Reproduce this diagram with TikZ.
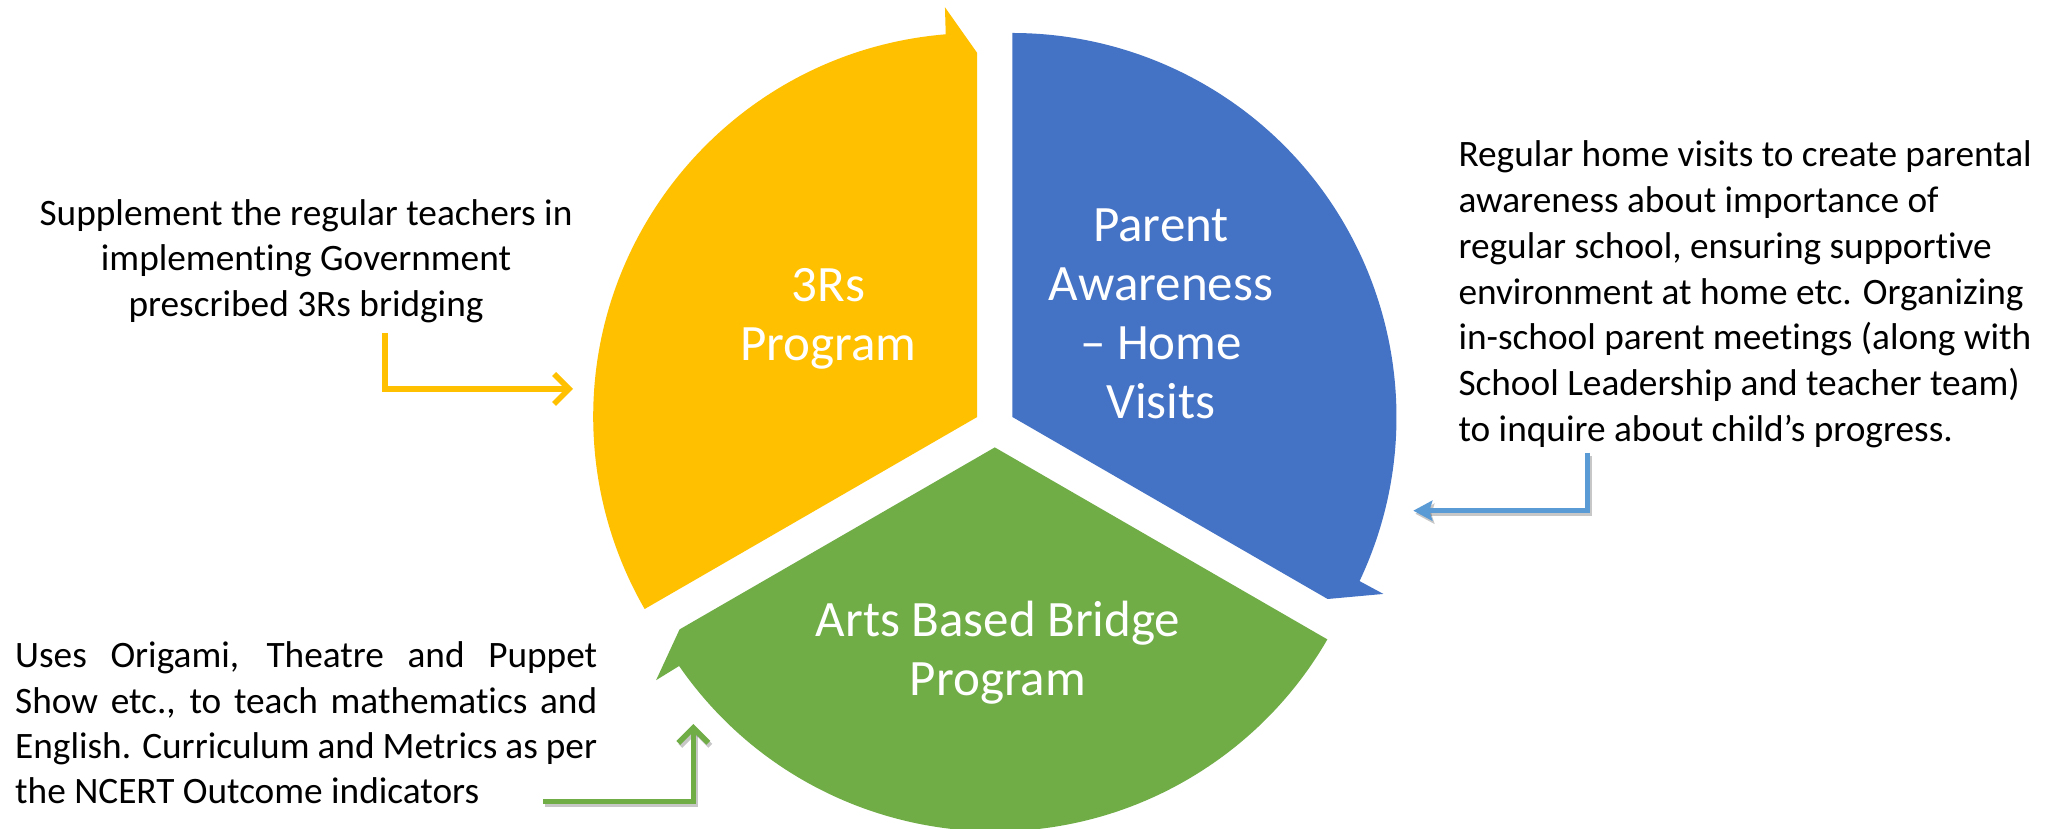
\documentclass[tikz,border=0pt]{standalone}
\usepackage{fontspec}
\setmainfont{Carlito}[Ligatures=NoCommon]
\usetikzlibrary{arrows.meta}
\definecolor{cyellow}{HTML}{FFC000}
\definecolor{cblue}{HTML}{4472C4}
\definecolor{cgreen}{HTML}{70AD47}
\definecolor{carrowblue}{HTML}{5B9BD5}
\begin{document}
\begin{tikzpicture}[x=1pt,y=1pt,
  segpath/.style={insert path={(0,0) -- (90:364) -- (94.5:411) -- (94.7:384) arc[start angle=94.7,end angle=210,radius=384pt] -- cycle}},
  seglabel/.style={text=white, font=\fontsize{51}{59}\selectfont, align=center, inner sep=0pt},
  desc/.style={text=black, inner sep=0pt},
  conn/.style={line width=5.5pt, line join=miter},
  shadowline/.style={line width=5.5pt, line join=miter, black, opacity=0.22},
  openhead/.style={-{Straight Barb[length=15pt,width=30pt]}},
  filledhead/.style={-{Stealth[length=19pt,width=20pt,inset=3pt]}},
]
\fill[white] (0,0) rectangle (2059,829);
\useasboundingbox (0,0) rectangle (2059,829);
% segments (exploded pie with arrow barbs)
\begin{scope}[shift={(977.2,412)}]
  \fill[cyellow] [segpath];
\end{scope}
\begin{scope}[shift={(1012.4,412)}, rotate=-120]
  \fill[cblue] [segpath];
\end{scope}
\begin{scope}[shift={(994.8,381.6)}, rotate=120]
  \fill[cgreen] [segpath];
\end{scope}
% segment labels (base anchor = last line baseline)
\node[seglabel, anchor=base] (rthree) at (828.3,468.3) {3Rs\\Program};
\node[seglabel, anchor=base] (parent) at (1161,410.5) {Parent\\Awareness\\– Home\\Visits};
\node[seglabel, anchor=base] (arts) at (998,133.3) {Arts Based Bridge\\Program};
% descriptions
\node[desc, font=\fontsize{37.3}{45.8}\selectfont, align=center, anchor=base] (dleft) at (306,512.3)
  {Supplement the regular teachers in\\implementing Government\\prescribed 3Rs bridging};
\node[desc, font=\fontsize{37.3}{45.8}\selectfont, align=left, anchor=base west] (dright) at (1458.3,387.5)
  {Regular home visits to create parental\\awareness about importance of\\regular school, ensuring supportive\\environment at home etc. Organizing\\in-school parent meetings (along with\\School Leadership and teacher team)\\to inquire about child’s progress.};
\node[desc, font=\fontsize{37.3}{45.3}\selectfont, text width=582pt, align=justify, anchor=base west] (dbottom) at (15,161)
  {Uses Origami, Theatre and Puppet\linebreak Show etc., to teach mathematics and\linebreak English. Curriculum and Metrics as per\linebreak the NCERT Outcome indicators};
% connectors
\coordinate (yA) at (385,496);
\coordinate (yB) at (573,440);
\draw[conn, cyellow, openhead] (yA) |- (yB);
\coordinate (bA) at (1587.3,376);
\coordinate (bB) at (1413.3,318.3);
\draw[shadowline, filledhead] ([shift={(2,-3)}]bA) |- ([shift={(2,-3)}]bB);
\draw[conn, carrowblue, filledhead] (bA) |- (bB);
\coordinate (gA) at (543.3,27.3);
\coordinate (gB) at (693.3,105);
\draw[shadowline, openhead] ([shift={(2,-3)}]gA) -| ([shift={(2,-3)}]gB);
\draw[conn, cgreen, openhead] (gA) -| (gB);
\end{tikzpicture}
\end{document}
